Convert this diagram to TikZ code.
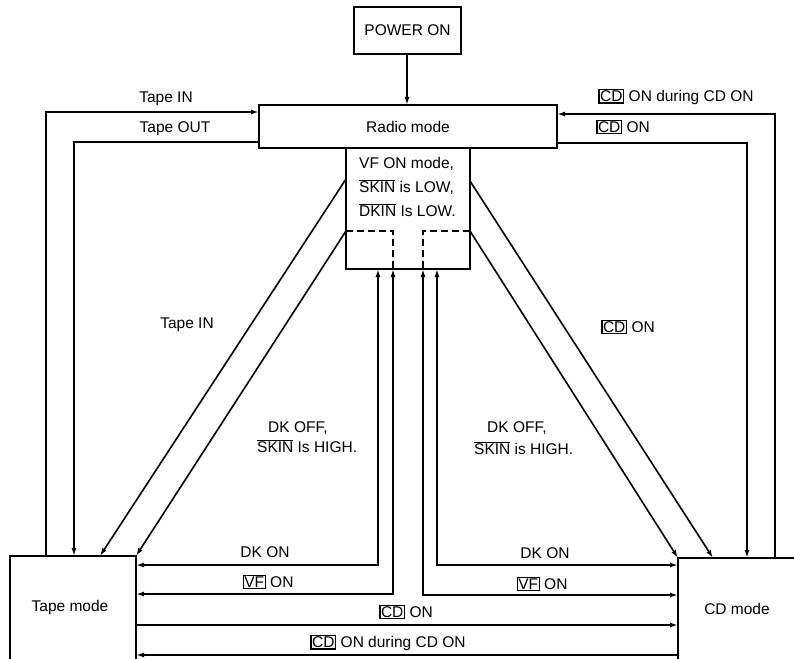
\documentclass[tikz,border=0pt]{standalone}
\usepackage{fontspec}
\setmainfont{Liberation Sans}
\usetikzlibrary{arrows.meta}
\newcommand{\kbox}[1]{{\setlength{\fboxsep}{0.5pt}\setlength{\fboxrule}{1.3pt}\fbox{#1}}}
\newcommand{\ovl}[1]{$\overline{\mbox{#1}}$}
\begin{document}
\begin{tikzpicture}[x=1pt,y=-1pt,
  lbl/.style={inner sep=0pt,font=\fontsize{15.5}{18}\selectfont},
  wire/.style={line width=1.6pt},
  arr/.style={wire,-{Latex[length=8pt,width=5pt]}},
  darr/.style={wire,{Latex[length=8pt,width=5pt]}-{Latex[length=8pt,width=5pt]}},
  boxline/.style={line width=1.7pt},
  dashline/.style={line width=1.7pt,dash pattern=on 7pt off 4pt}]
\useasboundingbox (0,0) rectangle (794,658);
% boxes
\draw[boxline] (354,7) rectangle (461,54);
\node[lbl] (power) at (407.5,30.5) {POWER ON};
\coordinate (powerS) at (407,54);
\draw[boxline] (259,105) rectangle (557,148);
\node[lbl] (radio) at (408,127) {Radio mode};
\coordinate (radioN) at (407,105);
\draw[boxline] (346,148) -- (346,269) -- (470,269) -- (470,148);
\draw[dashline] (346,231) -- (393,231) -- (393,269);
\draw[dashline] (470,231) -- (423,231) -- (423,269);
\node[lbl,anchor=west] (vf1) at (359,164) {VF ON mode,};
\node[lbl,anchor=west] (vf2) at (359,187) {\ovl{SKIN} is LOW,};
\node[lbl,anchor=west] (vf3) at (359,210) {\ovl{DKIN} Is LOW.};
% tape / cd mode boxes (running off the page)
\draw[boxline] (10,670) -- (10,556) -- (136,556) -- (136,670);
\node[lbl] (tape) at (70,607) {Tape mode};
\draw[boxline] (678,670) -- (678,558) -- (800,558);
\node[lbl] (cd) at (737,609) {CD mode};
% coordinates
\coordinate (tiA) at (46,556);  \coordinate (tiB) at (46,112);  \coordinate (tiC) at (259,112);
\coordinate (toA) at (259,142); \coordinate (toB) at (74,142);  \coordinate (toC) at (74,556);
\coordinate (cdA) at (775,558); \coordinate (cdB) at (775,114); \coordinate (cdC) at (557,114);
\coordinate (coA) at (557,143); \coordinate (coB) at (747,143); \coordinate (coC) at (747,558);
\coordinate (dlo) at (346,179); \coordinate (tlo) at (100,556);
\coordinate (dli) at (346,231); \coordinate (tli) at (136,556);
\coordinate (dro) at (470,181); \coordinate (cro) at (713,558);
\coordinate (dri) at (470,231); \coordinate (cri) at (678,558);
\coordinate (v1) at (378,269); \coordinate (v1c) at (378,565); \coordinate (v1e) at (136,565);
\coordinate (v2) at (393,269); \coordinate (v2c) at (393,594); \coordinate (v2e) at (136,594);
\coordinate (v3) at (423,269); \coordinate (v3c) at (423,595); \coordinate (v3e) at (678,595);
\coordinate (v4) at (437,269); \coordinate (v4c) at (437,565); \coordinate (v4e) at (678,565);
\coordinate (h1a) at (136,625); \coordinate (h1b) at (678,625);
\coordinate (h2a) at (678,655); \coordinate (h2b) at (136,655);
% connectors
\draw[arr] (powerS) -- (radioN);
\draw[arr] (tiA) -- (tiB) -- (tiC);
\draw[arr] (toA) -- (toB) -- (toC);
\draw[arr] (cdA) -- (cdB) -- (cdC);
\draw[arr] (coA) -- (coB) -- (coC);
\draw[arr] (dlo) -- (tlo);
\draw[arr] (dli) -- (tli);
\draw[arr] (dro) -- (cro);
\draw[arr] (dri) -- (cri);
\draw[darr] (v1) -- (v1c) -- (v1e);
\draw[darr] (v2) -- (v2c) -- (v2e);
\draw[darr] (v3) -- (v3c) -- (v3e);
\draw[darr] (v4) -- (v4c) -- (v4e);
\draw[arr] (h1a) -- (h1b);
\draw[arr] (h2a) -- (h2b);
% labels
\node[lbl] (lTI) at (166,99) {Tape IN};
\node[lbl] (lTO) at (175,129) {Tape OUT};
\node[lbl] (lCDd) at (676,97) {\kbox{CD} ON during CD ON};
\node[lbl] (lCD) at (623,127) {\kbox{CD} ON};
\node[lbl] (lTI2) at (187,325) {Tape IN};
\node[lbl] (lCD2) at (628,327) {\kbox{CD} ON};
\node[lbl,anchor=west] (lDK1) at (268,428) {DK OFF,};
\node[lbl,anchor=west] (lSK1) at (257,446) {\ovl{SKIN} Is HIGH.};
\node[lbl,anchor=west] (lDK2) at (487,428) {DK OFF,};
\node[lbl,anchor=west] (lSK2) at (474,448) {\ovl{SKIN} is HIGH.};
\node[lbl] (bDK1) at (265,552) {DK ON};
\node[lbl] (bVF1) at (268,582) {\kbox{VF} ON};
\node[lbl] (bCD) at (406,612) {\kbox{CD} ON};
\node[lbl] (bCDd) at (388,643) {\kbox{CD} ON during CD ON};
\node[lbl] (bDK2) at (545,553) {DK ON};
\node[lbl] (bVF2) at (542,584) {\kbox{VF} ON};
\end{tikzpicture}
\end{document}
